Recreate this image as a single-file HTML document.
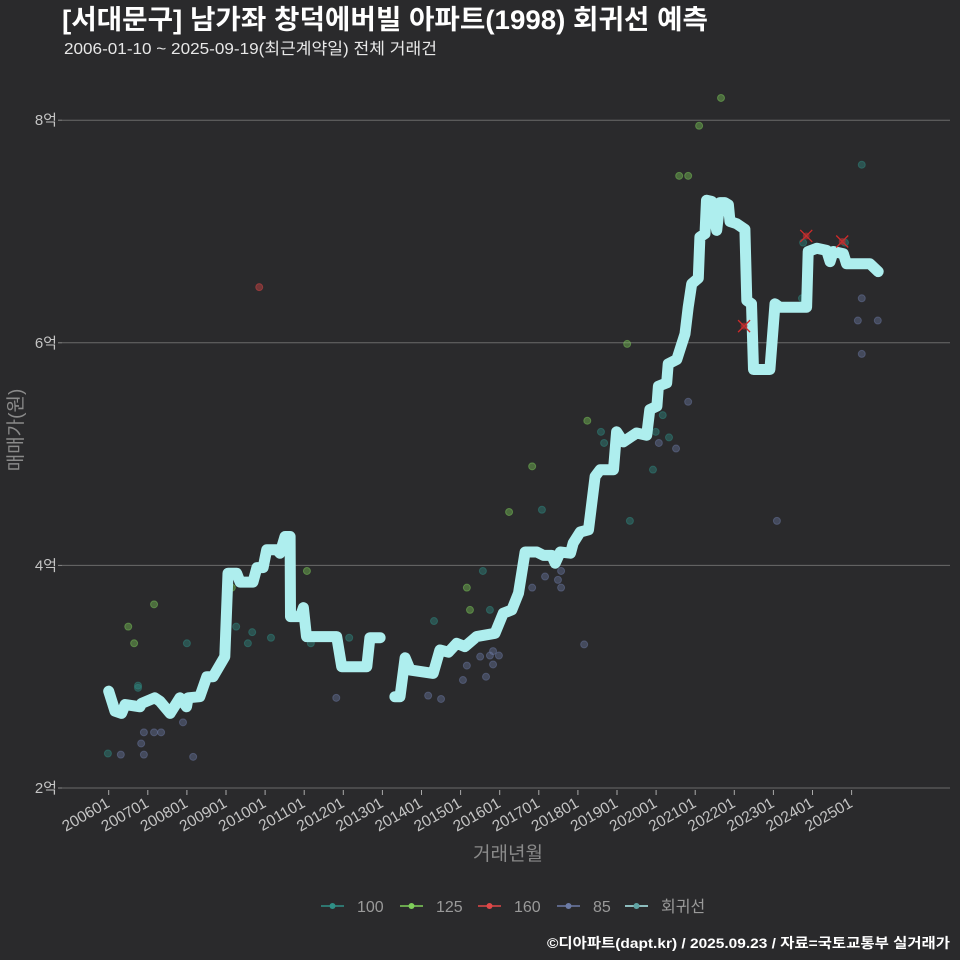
<!DOCTYPE html>
<html><head><meta charset="utf-8">
<style>
html,body{margin:0;padding:0;background:#2a2a2c;}
svg{display:block;font-family:"Liberation Sans","Noto Sans CJK KR",sans-serif;}
</style></head>
<body>
<svg id="chart" width="960" height="960" viewBox="0 0 960 960" xmlns="http://www.w3.org/2000/svg">
<rect width="960" height="960" fill="#2a2a2c"/>
<text x="62" y="29" fill="#ffffff" font-size="27" font-weight="bold" textLength="646" lengthAdjust="spacingAndGlyphs">[서대문구] 남가좌 창덕에버빌 아파트(1998) 회귀선 예측</text>
<text x="64" y="54" fill="#e8e8e8" font-size="16" textLength="373" lengthAdjust="spacingAndGlyphs">2006-01-10 ~ 2025-09-19(최근계약일) 전체 거래건</text>
<g id="grid"></g>
<g id="yaxis"></g>
<g id="xaxis"></g>
<g id="points"></g>
<g id="line"></g>
<g id="marks"></g>
<text transform="translate(22,430) rotate(-90)" text-anchor="middle" fill="#8a8a8a" font-size="19">매매가(원)</text>
<text x="508" y="860" text-anchor="middle" fill="#8a8a8a" font-size="19">거래년월</text>
<g id="legend"></g>
<text x="950" y="948" text-anchor="end" fill="#ffffff" font-size="14" font-weight="bold" textLength="403" lengthAdjust="spacingAndGlyphs">©디아파트(dapt.kr) / 2025.09.23 / 자료=국토교통부 실거래가</text>
</svg>
<script>
const yTicks = [2, 4, 6, 8];
const yTickLabels = ["2억", "4억", "6억", "8억"];
const xTickYears = [2006,2007,2008,2009,2010,2011,2012,2013,2014,2015,2016,2017,2018,2019,2020,2021,2022,2023,2024,2025];
const xTickLabels = ["200601","200701","200801","200901","201001","201101","201201","201301","201401","201501","201601","201701","201801","201901","202001","202101","202201","202301","202401","202501"];

const regT1 = [2006.0,2006.16,2006.33,2006.42,2006.80,2006.84,2007.18,2007.31,2007.57,2007.82,2007.99,2008.03,2008.33,2008.51,2008.67,2008.97,2009.05,2009.27,2009.36,2009.69,2009.79,2009.95,2010.04,2010.30,2010.38,2010.51,2010.64,2010.65,2010.90,2010.98,2011.06,2011.83,2011.96,2012.60,2012.68,2012.94];
const regV1 = [2.87,2.69,2.67,2.75,2.73,2.76,2.81,2.78,2.67,2.81,2.73,2.81,2.82,3.0,3.0,3.18,3.93,3.93,3.85,3.85,3.98,3.98,4.14,4.14,4.11,4.26,4.26,3.54,3.54,3.62,3.36,3.36,3.09,3.09,3.35,3.35];
const regT2 = [2013.32,2013.45,2013.58,2013.71,2014.30,2014.47,2014.69,2014.90,2015.11,2015.41,2015.88,2016.09,2016.31,2016.48,2016.65,2016.95,2017.12,2017.33,2017.42,2017.55,2017.81,2017.88,2018.06,2018.27,2018.44,2018.57,2018.91,2018.99,2019.16,2019.50,2019.76,2019.84,2020.02,2020.06,2020.27,2020.31,2020.53,2020.61,2020.74,2020.82,2020.91,2021.08,2021.12,2021.25,2021.29,2021.42,2021.55,2021.63,2021.76,2021.85,2021.89,2022.06,2022.27,2022.32,2022.44,2022.49,2022.91,2023.04,2023.16,2023.85,2023.89,2024.11,2024.36,2024.45,2024.53,2024.79,2024.87,2025.47,2025.68];
const regV2 = [2.82,2.82,3.17,3.06,3.03,3.24,3.22,3.30,3.27,3.36,3.39,3.57,3.60,3.75,4.12,4.12,4.09,4.09,4.02,4.12,4.11,4.20,4.30,4.32,4.80,4.86,4.86,5.20,5.11,5.19,5.17,5.40,5.43,5.61,5.64,5.81,5.85,5.94,6.08,6.32,6.53,6.58,6.95,6.98,7.28,7.27,7.01,7.26,7.26,7.24,7.09,7.07,7.02,6.38,6.35,5.76,5.76,6.35,6.32,6.32,6.82,6.85,6.83,6.73,6.82,6.80,6.71,6.71,6.64];

const t85 = [2006.31,2006.83,2006.90,2006.90,2007.16,2007.34,2007.90,2008.16,2011.82,2014.17,2014.50,2015.06,2015.16,2015.50,2015.65,2015.75,2015.83,2015.83,2015.98,2016.83,2017.16,2017.49,2017.57,2017.57,2018.16,2020.07,2020.51,2020.82,2023.09,2025.26,2025.16,2025.67,2025.26];
const v85 = [2.30,2.40,2.30,2.50,2.50,2.50,2.59,2.28,2.81,2.83,2.80,2.97,3.10,3.18,3.00,3.19,3.23,3.11,3.19,3.80,3.90,3.87,3.95,3.80,3.29,5.10,5.05,5.47,4.40,6.40,6.20,6.20,5.90];
const t100 = [2005.98,2006.75,2006.75,2008.00,2009.26,2009.67,2009.56,2010.15,2011.17,2012.15,2014.32,2015.57,2015.75,2017.08,2018.59,2018.67,2019.33,2019.92,2019.99,2020.17,2020.33,2025.26,2023.76,2024.83,2023.73];
const v100 = [2.31,2.92,2.90,3.30,3.45,3.40,3.30,3.35,3.30,3.35,3.50,3.95,3.60,4.50,5.20,5.10,4.40,4.86,5.20,5.35,5.15,7.60,6.90,6.90,6.40];
const t125 = [2006.50,2007.16,2006.65,2011.07,2009.15,2015.16,2015.24,2016.24,2016.83,2018.24,2019.26,2020.59,2020.82,2021.10,2021.66];
const v125 = [3.45,3.65,3.30,3.95,3.80,3.80,3.60,4.48,4.89,5.30,5.99,7.50,7.50,7.95,8.20];
const t160 = [2009.85];
const v160 = [6.50];
const tOut = [2023.84,2024.76,2022.25];
const vOut = [6.96,6.91,6.15];

const seriesNames = ["100","125","160","85","회귀선"];
const seriesColors = ["#2f8f86","#7fcf5a","#e04848","#6c7ba6","#aeeeee"];

const NS = "http://www.w3.org/2000/svg";
function xS(t){ return 108.7 + (t - 2006) * 39.1; }
function yS(v){ return 788 - (v - 2) * 111.3; }
function mk(tag, attrs, parent){ const e=document.createElementNS(NS,tag); for(const k in attrs) e.setAttribute(k,attrs[k]); parent.appendChild(e); return e; }

const grid=document.getElementById('grid'), yax=document.getElementById('yaxis'), xax=document.getElementById('xaxis');
yTicks.forEach((v,i)=>{
  const l=mk('line',{x1:62,x2:950,y1:yS(v),y2:yS(v),stroke:'#6a6a6a','stroke-width':1},grid);
  
  
  const tk=mk('line',{x1:58,x2:62,y1:yS(v),y2:yS(v),stroke:'#888'},yax);
  
  
  const t=mk('text',{x:57,y:yS(v)+5,'text-anchor':'end',fill:'#c4c4c4','font-size':15},yax);
  t.textContent=yTickLabels[i];
  
  
});
xTickYears.forEach((yr,i)=>{
  const x=xS(yr);
  const tk=mk('line',{x1:x,x2:x,y1:790,y2:795,stroke:'#aaa'},xax);
  
  
  const t=mk('text',{x:x+2,y:806,'text-anchor':'end',fill:'#c4c4c4','font-size':15.5,transform:`rotate(-30 ${x+2} 806)`},xax);
  t.textContent=xTickLabels[i];
  
  
});

const pts=document.getElementById('points');
[[t100,v100,0],[t125,v125,1],[t160,v160,2],[t85,v85,3]].forEach(([ts,vs,ci])=>{
  ts.forEach((t,i)=>{
    const c=mk('circle',{cx:xS(t),cy:yS(vs[i]),r:3.5,fill:seriesColors[ci],'fill-opacity':0.4,stroke:seriesColors[ci],'stroke-opacity':0.45},pts);
    
    
  });
});

const lg=document.getElementById('line');
[[regT1,regV1],[regT2,regV2]].forEach(([ts,vs])=>{
  const d=ts.map((t,i)=>(i?'L':'M')+xS(t).toFixed(1)+' '+yS(vs[i]).toFixed(1)).join(' ');
  const p=mk('path',{d:d,fill:'none',stroke:'#aeeeee','stroke-width':11,'stroke-linejoin':'round','stroke-linecap':'round'},lg);
  
  
});

const mg=document.getElementById('marks');
tOut.forEach((t,i)=>{
  const x=xS(t),y=yS(vOut[i]);
  const p=mk('path',{d:`M${x-6} ${y-6}L${x+6} ${y+6}M${x-6} ${y+6}L${x+6} ${y-6}`,stroke:'#d02a2a','stroke-width':1.3},mg);
  
  
  const c=mk('circle',{cx:x,cy:y,r:3.5,fill:'#c03030','fill-opacity':0.6},mg);
  
  
});

const leg=document.getElementById('legend');
const legX=[321,400,478,557,625];
seriesNames.forEach((n,i)=>{
  const g=mk('g',{},leg);
  
  
  mk('line',{x1:legX[i],x2:legX[i]+23,y1:906,y2:906,stroke:seriesColors[i],'stroke-width':1.5},g);
  mk('circle',{cx:legX[i]+11.5,cy:906,r:3,fill:i==4?'#5fa3a3':seriesColors[i]},g);
  const t=mk('text',{x:legX[i]+36,y:912,fill:'#9a9a9a','font-size':16},g);
  t.textContent=n;
});
</script>
</body></html>
